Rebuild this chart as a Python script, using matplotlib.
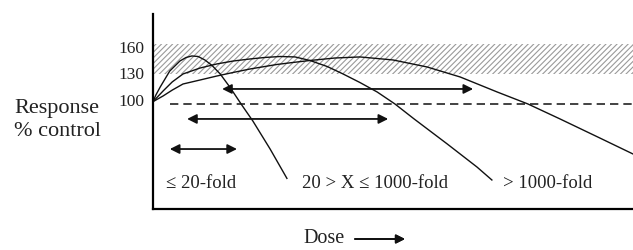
import matplotlib
matplotlib.use("Agg")
import matplotlib.pyplot as plt

plt.rcParams['font.family'] = ['Liberation Serif', 'DejaVu Serif']
plt.rcParams['hatch.linewidth'] = 0.8

# curves (dose in arbitrary units 0-100, response in % control)
dose_a = [0, 0.6, 1.5, 3.5, 5.6, 6.9, 8.1, 9.4, 10.8, 12.3, 14.0, 16.0, 18.5, 20.8, 24.4, 27.9]
resp_a = [97, 104.5, 113.5, 131.6, 142.8, 146.8, 148.5, 147.9, 144.0, 137.8, 128.2, 113.5, 93.2, 75.2, 43.6, 10.5]

dose_b = [0, 2.1, 4.0, 6.25, 9.8, 13.3, 16.7, 20.2, 23.3, 26.5, 29.6, 32.7, 36.3, 39.6,
          43.1, 46.7, 50.4, 54.4, 61.3, 67.5, 70.6]
resp_b = [97, 109.0, 119.2, 128.2, 134.9, 139.5, 142.8, 145.1, 146.8, 147.9, 147.4, 143.4, 136.6, 128.2,
          118.6, 107.9, 94.4, 77.5, 49.3, 23.3, 8.7]

dose_c = [0, 2.1, 4.0, 6.25, 9.8, 13.3, 16.7, 20.2, 25.8, 29.2, 32.7, 37.9, 43.1, 50.0,
          57.1, 64.0, 71.7, 78.1, 84.8, 93.1, 100]
resp_c = [97, 103.4, 110.0, 116.9, 121.4, 125.9, 129.9, 133.8, 138.9, 141.2, 143.4, 146.2, 147.4, 144.0,
          136.1, 124.8, 107.9, 94.4, 77.5, 56.0, 38.0]

# shaded band and control line
band_low, band_high = 128, 162
control_level = 94.4

# range arrows
arrow_y = [111.3, 77.5, 43.6]
arrow_start = [14.4, 7.1, 3.5]
arrow_end = [66.7, 49.0, 17.5]

# labels under the curves
label_text = ['≤ 20-fold', '20 > X ≤ 1000-fold', '> 1000-fold']
label_x = [2.7, 31.0, 72.9]
label_y = 6.4

yticks = [100, 130, 160]

fig = plt.figure(figsize=(6.33, 2.51), dpi=100)
ax = fig.add_axes([153 / 633, 41 / 251, 480 / 633, 195 / 251])

ax.fill_between([0, 100], band_low, band_high, facecolor='none',
                edgecolor='#9a9a9a', hatch='//////', linewidth=0)
ax.plot([3.5, 100], [control_level, control_level], color='#222222',
        lw=1.2, linestyle=(0, (5, 3)))

for d, r in [(dose_a, resp_a), (dose_b, resp_b), (dose_c, resp_c)]:
    ax.plot(d, r, color='#111111', lw=1.0)

for y, x0, x1 in zip(arrow_y, arrow_start, arrow_end):
    ax.annotate('', xy=(x1, y), xytext=(x0, y),
                arrowprops=dict(arrowstyle='<|-|>', color='#111111', lw=1.3,
                                mutation_scale=14, shrinkA=0, shrinkB=0))

for t, x in zip(label_text, label_x):
    ax.text(x, label_y, t, fontsize=13.5, va='center', ha='left', color='#222222')

ax.set_xlim(0, 100)
ax.set_ylim(-24, 195.8)
ax.set_xticks([])
ax.set_yticks(yticks)
ax.set_yticklabels([str(v) for v in yticks], fontsize=12.5, color='#222222')
ax.tick_params(axis='y', length=0, pad=6.5)
ax.spines['top'].set_visible(False)
ax.spines['right'].set_visible(False)
ax.spines['left'].set_linewidth(1.6)
ax.spines['bottom'].set_linewidth(1.6)

fig.text(14 / 633, 1 - 108 / 251, 'Response', fontsize=16, va='center', ha='left', color='#222222')
fig.text(14 / 633, 1 - 132 / 251, '% control', fontsize=16, va='center', ha='left', color='#222222')
fig.text(303 / 633, 1 - 239 / 251, 'Dose', fontsize=14.5, va='center', ha='left', color='#222222')
fig.add_artist(plt.annotate('', xy=(405 / 633, 1 - 240 / 251), xytext=(355 / 633, 1 - 240 / 251),
                            xycoords='figure fraction', textcoords='figure fraction',
                            arrowprops=dict(arrowstyle='-|>', color='#111111', lw=1.3,
                                            mutation_scale=13, shrinkA=0, shrinkB=0)))

fig.savefig('out.png', dpi=100)
